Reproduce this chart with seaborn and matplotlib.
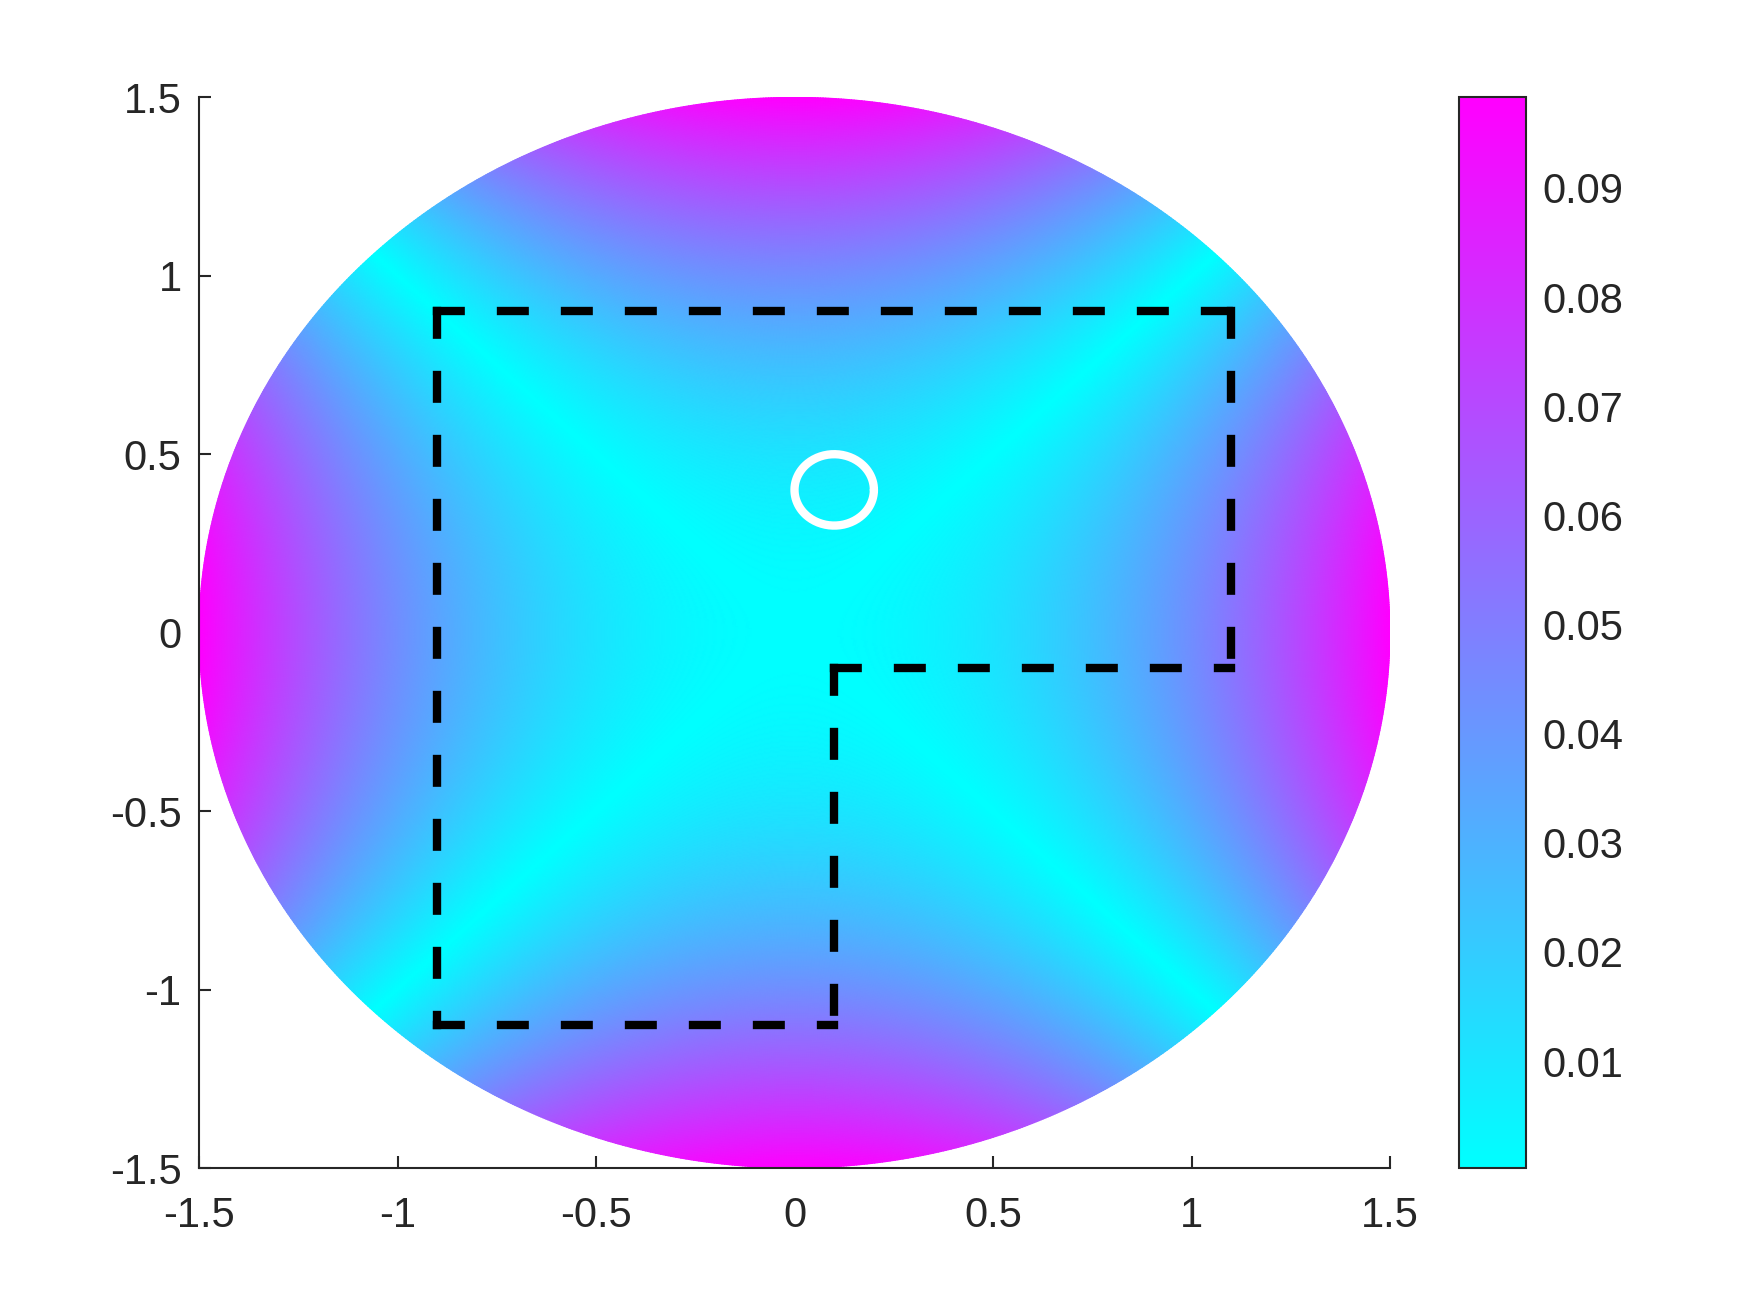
import numpy as np
import pandas as pd
import matplotlib
matplotlib.use("Agg")
import matplotlib.pyplot as plt
import seaborn as sns

# ---------------- data ----------------
x_ticks = [-1.5, -1.0, -0.5, 0.0, 0.5, 1.0, 1.5]
y_ticks = [-1.5, -1.0, -0.5, 0.0, 0.5, 1.0, 1.5]
x_tick_labels = ["-1.5", "-1", "-0.5", "0", "0.5", "1", "1.5"]
y_tick_labels = ["-1.5", "-1", "-0.5", "0", "0.5", "1", "1.5"]
cbar_ticks = [0.01, 0.02, 0.03, 0.04, 0.05, 0.06, 0.07, 0.08, 0.09]
cbar_tick_labels = ["0.01", "0.02", "0.03", "0.04", "0.05", "0.06", "0.07", "0.08", "0.09"]
c_min = 0.0002          # colour limits
c_max = 0.0983
disk_radius = 1.5       # radius of the plotted domain
# field value grows like |x^2 - y^2| (cyan diagonals, magenta on the axes)
field_peak = c_max      # value at (±1.5, 0) / (0, ±1.5)

# dashed L-shaped outline: vertices and the edges (start -> end)
poly_x = [-0.9, 1.1, 1.1, 0.1, 0.1, -0.9]
poly_y = [0.9, 0.9, -0.1, -0.1, -1.1, -1.1]
edges = [(0, 1), (1, 2), (3, 2), (3, 4), (5, 4), (0, 5)]

# white circle
circle_cx = 0.1
circle_cy = 0.4
circle_r = 0.1

# ---------------- style ----------------
sns.set_style("white")
plt.rcParams["font.family"] = ["Liberation Sans", "DejaVu Sans"]
plt.rcParams["axes.unicode_minus"] = False
txt = (0.15, 0.15, 0.15)

W, H, DPI = 1750, 1313, 300
fig = plt.figure(figsize=(W / DPI, H / DPI), dpi=DPI)
ax = fig.add_axes([199 / W, 1 - 1168 / H, (1390 - 199) / W, (1168 - 97.3) / H])
cax = fig.add_axes([1459 / W, 1 - 1168 / H, (1525.7 - 1459) / W, (1168 - 97.3) / H])

# ---------------- field on a polar mesh ----------------
r = np.linspace(0, disk_radius, 220)
th = np.linspace(0, 2 * np.pi, 1441)
R, TH = np.meshgrid(r, th)
X = R * np.cos(TH)
Y = R * np.sin(TH)
Z = field_peak * np.abs(X**2 - Y**2) / disk_radius**2
mesh = ax.pcolormesh(X, Y, Z, shading="gouraud", cmap="cool",
                     vmin=c_min, vmax=c_max, rasterized=True)

# ---------------- dashed outline ----------------
for k, (a, b) in enumerate(edges):
    seg = pd.DataFrame({"x": [poly_x[a], poly_x[b]], "y": [poly_y[a], poly_y[b]]})
    sns.lineplot(data=seg, x="x", y="y", sort=False, ax=ax, color="black",
                 linewidth=2.0, linestyle=(0, (2.84, 4.84)),
                 dash_capstyle="projecting", solid_capstyle="projecting",
                 estimator=None)

# ---------------- circle ----------------
t = np.linspace(0, 2 * np.pi, 200)
circ = pd.DataFrame({"x": circle_cx + circle_r * np.cos(t),
                     "y": circle_cy + circle_r * np.sin(t)})
sns.lineplot(data=circ, x="x", y="y", sort=False, ax=ax, color="white",
             linewidth=2.0, estimator=None)

# ---------------- axes styling ----------------
ax.set_xlim(-1.5, 1.5)
ax.set_ylim(-1.5, 1.5)
ax.set_xticks(x_ticks)
ax.set_xticklabels(x_tick_labels)
ax.set_yticks(y_ticks)
ax.set_yticklabels(y_tick_labels)
ax.set_xlabel("")
ax.set_ylabel("")
for s in ["top", "right"]:
    ax.spines[s].set_visible(False)
for s in ["left", "bottom"]:
    ax.spines[s].set_visible(True)
    ax.spines[s].set_color(txt)
    ax.spines[s].set_linewidth(0.5)
ax.tick_params(axis="both", direction="in", length=2.9, width=0.5,
               color=txt, labelcolor=txt, labelsize=10,
               bottom=True, left=True, top=False, right=False)
ax.tick_params(axis="x", pad=6.7)
ax.tick_params(axis="y", pad=4.2)
ax.set_facecolor("white")
ax.grid(False)

# ---------------- colour bar ----------------
cb = fig.colorbar(mesh, cax=cax)
cb.set_ticks(cbar_ticks)
cb.set_ticklabels(cbar_tick_labels)
cb.outline.set_edgecolor(txt)
cb.outline.set_linewidth(0.5)
cax.tick_params(axis="y", direction="in", length=2.6, width=0.5, color=txt,
                labelcolor=txt, labelsize=10, pad=4.0,
                right=True, left=False, labelright=True, labelleft=False)
cax.minorticks_off()

fig.savefig("out.png", dpi=DPI, facecolor="white")
